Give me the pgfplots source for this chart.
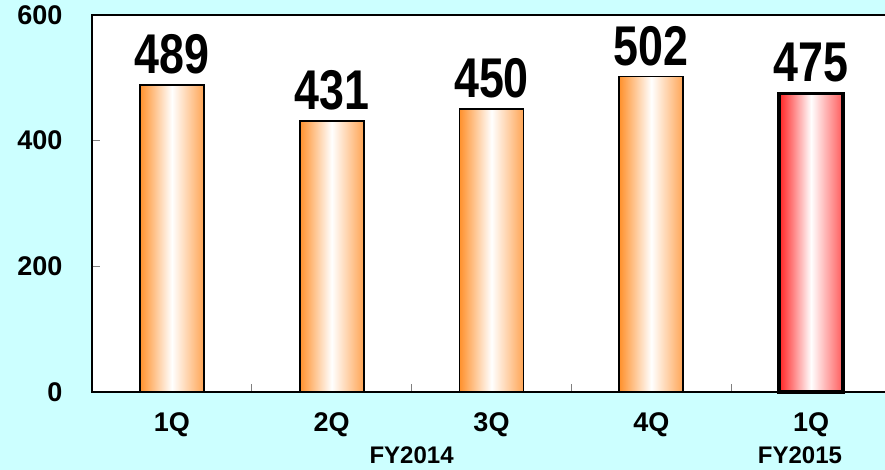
\documentclass[border=0pt]{standalone}
\usepackage{pgfplots}
\pgfplotsset{compat=1.18}
\usepackage{graphicx}
\usepackage{fontspec}
\setmainfont{Liberation Sans}
\definecolor{bgc}{RGB}{204,255,255}
\definecolor{orL}{RGB}{255,145,45}
\definecolor{orR}{RGB}{255,165,85}
\definecolor{rdL}{RGB}{255,35,35}
\definecolor{rdR}{RGB}{255,90,90}
\begin{document}
\begin{tikzpicture}[x=1pt,y=1pt]
\fill[bgc] (0,0) rectangle (885,470);
\begin{scope}
\clip (0,0) rectangle (885,470);
\begin{axis}[
  at={(92pt,78pt)}, anchor=south west,
  scale only axis, width=799pt, height=377pt,
  xmin=-0.5, xmax=4.5, ymin=0, ymax=600,
  clip=false,
  axis background/.style={fill=white},
  axis line style={black, line width=1.8pt},
  ytick={0,200,400,600},
  xtick={0.5,1.5,2.5,3.5},
  xticklabels={},
  extra x ticks={0,1,2,3,4},
  extra x tick labels={1Q,2Q,3Q,4Q,1Q},
  extra x tick style={major tick length=0pt, xticklabel style={yshift=-17pt}},
  xtick pos=left, ytick pos=left,
  tick align=inside,
  major tick length=8pt,
  tick style={gray, line width=1pt},
  /pgf/number format/assume math mode=true,
  tick label style={font=\bfseries\fontsize{27}{27}\selectfont},
  yticklabel style={xshift=-26pt},
  bar width=0.4,
  every axis plot/.append style={ybar, bar shift=0pt, draw=black},
  nodes near coords={\scalebox{0.8}[1]{\pgfmathprintnumber{\pgfplotspointmeta}}},
  nodes near coords style={font=\bfseries\fontsize{56}{56}\selectfont, anchor=south, inner sep=0pt, yshift=10pt, text=black},
]
\addplot[line width=1.8pt, left color=orL, right color=orR, middle color=white] coordinates {(0,489)};
\addplot[line width=1.8pt, left color=orL, right color=orR, middle color=white] coordinates {(1,431)};
\addplot[line width=1.8pt, left color=orL, right color=orR, middle color=white] coordinates {(2,450)};
\addplot[line width=1.8pt, left color=orL, right color=orR, middle color=white] coordinates {(3,502)};
\addplot[line width=3.5pt, left color=rdL, right color=rdR, middle color=white] coordinates {(4,475)};
\node[anchor=north, inner sep=0pt, yshift=-55pt, font=\bfseries\fontsize{24}{24}\selectfont] at (axis cs:1.5,0) {FY2014};
\node[anchor=north, inner sep=0pt, yshift=-55pt, font=\bfseries\fontsize{24}{24}\selectfont] at (axis cs:3.93,0) {FY2015};
\end{axis}
\end{scope}
\pgfresetboundingbox
\useasboundingbox (0,0) rectangle (885,470);
\end{tikzpicture}
\end{document}
